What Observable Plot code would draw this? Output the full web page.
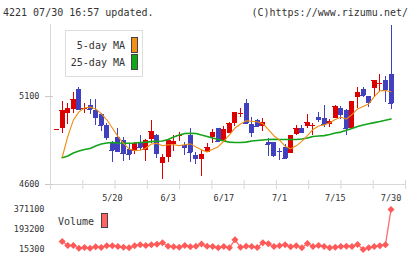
<!DOCTYPE html>
<html>
<head>
<meta charset="utf-8">
<script src="https://cdn.jsdelivr.net/npm/d3@7"></script>
<script src="https://cdn.jsdelivr.net/npm/@observablehq/plot@0.6"></script>
<style>
  body { margin: 0; background: #fff; }
  #wrap { position: relative; width: 420px; height: 259px; overflow: hidden; background: #fff;
          font-family: "DejaVu Sans Mono", monospace; color: #333; }
  .abs { position: absolute; white-space: nowrap; line-height: 12px; }
  .sw { position: absolute; box-sizing: border-box; border: 1px solid #444; }
</style>
</head>
<body>
<div id="wrap">
  <div id="price" class="abs" style="left:0;top:0"></div>
  <div id="vol" class="abs" style="left:0;top:200px"></div>

  <div class="abs" style="left:3px;top:7px;font-size:10px">4221 07/30 16:57 updated.</div>
  <div class="abs" style="right:12px;top:7px;font-size:10px">(C)https://www.rizumu.net/</div>

  <div class="abs" style="left:65px;top:30px;width:78px;height:47px;box-sizing:border-box;border:1px solid #ddd;background:#fff"></div>
  <div class="abs" style="left:65px;top:40px;width:60px;text-align:right;font-size:10px">5-day MA</div>
  <div class="abs" style="left:65px;top:57px;width:60px;text-align:right;font-size:10px">25-day MA</div>
  <div class="sw" style="left:131px;top:37px;width:7px;height:16px;background:#f39019"></div>
  <div class="sw" style="left:131px;top:54px;width:7px;height:16px;background:#10a818"></div>

  <div class="abs" style="left:58px;top:216px;font-size:10px">Volume</div>
  <div class="sw" style="left:101px;top:213px;width:7px;height:15px;background:#ff6464"></div>
</div>
<script>
// Trading days shown on the chart (2025)
const dates = ["5/2",
  "5/7","5/8","5/9","5/12","5/13","5/14","5/15","5/16","5/19","5/20",
  "5/21","5/22","5/23","5/26","5/27","5/28","5/29","5/30","6/2","6/3",
  "6/4","6/5","6/6","6/9","6/10","6/11","6/12","6/13","6/16","6/17",
  "6/18","6/19","6/20","6/23","6/24","6/25","6/26","6/27","6/30","7/1",
  "7/2","7/3","7/4","7/7","7/8","7/9","7/10","7/11","7/14","7/15",
  "7/16","7/17","7/18","7/22","7/23","7/24","7/25","7/28","7/29","7/30"];

const open = [4909,4920,5005,5029,5140,5027,5049,5020,4998,4935,
  4840,4869,4850,4797,4789,4837,4793,4854,4878,4718,
  4752,4827,4872,4822,4878,4765,4742,4783,4867,4920,
  4844,4888,4949,5004,5058,4941,4964,4930,4839,4839,
  4790,4812,4778,4883,4918,4930,4934,4982,4973,4941,
  4978,5030,5020,4921,5096,5140,5100,5147,5174,5191,5225];
const high = [4914,5073,5062,5123,5153,5058,5083,5083,5003,4949,
  4847,4918,4865,4827,4840,4878,4856,4964,4884,4769,
  4858,4878,4894,4840,4917,4783,4793,4831,4912,4920,
  4930,4951,5009,5032,5083,4979,4968,4977,4860,4839,
  4802,4827,4878,4935,4935,4998,4948,5007,5049,4968,
  5049,5043,5026,5072,5153,5153,5100,5191,5225,5214,5503];
const low = [4907,4888,4941,5005,5025,5005,4998,4935,4904,4850,
  4727,4786,4728,4738,4770,4793,4731,4831,4750,4627,
  4727,4789,4842,4765,4727,4714,4647,4783,4835,4840,
  4840,4888,4931,4983,4944,4869,4926,4903,4762,4755,
  4736,4749,4778,4878,4895,4916,4878,4952,4924,4926,
  4973,4968,4878,4921,5030,5096,5039,5096,5128,5068,5026];
const close = [4912,5020,5034,5083,5028,5030,5029,4979,4934,4869,
  4793,4789,4778,4770,4831,4808,4850,4903,4774,4752,
  4850,4846,4876,4809,4783,4749,4770,4812,4897,4847,
  4912,4945,5009,5006,4945,4897,4930,4954,4829,4766,
  4788,4749,4878,4917,4895,4951,4936,4971,4941,4958,
  5043,4998,4918,5072,5124,5106,5068,5191,5177,5134,5058];

// Moving averages as plotted
const ma5 = [null,4755,4873,4966,5013,5035,5041,5030,5003,4968,
  4921,4874,4834,4802,4793,4795,4806,4830,4834,4820,
  4826,4826,4821,4826,4831,4813,4797,4785,4800,4815,
  4846,4882,4921,4944,4962,4960,4957,4946,4912,4876,
  4853,4818,4803,4820,4845,4878,4913,4933,4939,4951,
  4970,4982,4972,4998,5030,5044,5058,5100,5133,5135,5128];
const ma25 = [null,4752,4762,4779,4790,4799,4805,4819,4830,4836,
  4839,4836,4835,4835,4836,4839,4841,4844,4846,4847,
  4856,4870,4881,4890,4891,4890,4881,4873,4864,4856,
  4847,4841,4839,4839,4841,4847,4850,4853,4856,4857,
  4856,4856,4856,4856,4859,4864,4873,4876,4878,4884,
  4893,4898,4909,4918,4930,4938,4945,4952,4958,4965,4972];

const volume = [null,86000,50900,50900,26900,33100,26900,39300,33100,48200,
  48200,42000,35800,30400,48200,57100,50900,57100,62400,74900,
  44700,39300,35800,50900,39300,44700,64000,44700,42000,30400,
  42000,30400,101600,35800,44700,42000,33100,74900,66000,42000,
  48200,57100,39300,48200,30400,68700,42000,50900,42000,30400,
  35800,42000,44700,42000,59800,15300,30400,42000,48200,57100,371100];

// Axis labels
const priceTicks = [4600, 5100];
const volumeTicks = [15300, 193200, 371100];
const dateTicks = ["5/20", "6/3", "6/17", "7/1", "7/15", "7/30"];

const UP = "#dc0000", DOWN = "#4141bf";

const rows = dates.map((d, i) => ({
  i, date: d, open: open[i], high: high[i], low: low[i], close: close[i],
  ma5: ma5[i], ma25: ma25[i], volume: volume[i],
  color: close[i] >= open[i] ? UP : DOWN
}));

const xDomain = [-1.1, 62.6];
const frameTicks = d3.range(12).map(k => xDomain[0] + k * (xDomain[1] - xDomain[0]) / 11);
const labelIdx = dateTicks.map(t => dates.indexOf(t));
const font = { fontFamily: "DejaVu Sans Mono, monospace", fontSize: "8.5px", color: "#333", background: "transparent" };

const price = Plot.plot({
  width: 420, height: 205,
  marginLeft: 50, marginRight: 15, marginTop: 24, marginBottom: 21,
  x: { domain: xDomain, axis: null, label: null },
  y: { domain: [4600, 5510], axis: null, label: null },
  color: { type: "identity" },
  style: font,
  marks: [
    Plot.ruleY([4600], { stroke: "#d8d8d8" }),
    Plot.ruleX([xDomain[0]], { stroke: "#d8d8d8" }),
    Plot.axisY({ ticks: priceTicks, label: null, tickSize: 8, tickPadding: 6, dx: 3, stroke: "#c8c8c8", fill: "#333", tickFormat: d => String(d) }),
    Plot.axisX({ ticks: frameTicks, label: null, tickSize: 9, dy: -4, stroke: "#d8d8d8", tickFormat: () => "" }),
    Plot.axisX({ ticks: labelIdx, label: null, tickSize: 0, tickPadding: 10, fill: "#333", tickFormat: i => dates[i] }),
    // candles: wick, body, and a 1px line at the close so doji show as crosses
    Plot.ruleX(rows, { x: "i", y1: "low", y2: "high", stroke: "color", strokeWidth: 1, shapeRendering: "crispEdges" }),
    Plot.ruleX(rows, { x: "i", y1: "open", y2: "close", stroke: "color", strokeWidth: 5, shapeRendering: "crispEdges" }),
    Plot.ruleY(rows, { y: "close", x1: d => d.i - 0.45, x2: d => d.i + 0.45, stroke: "color", strokeWidth: 1, shapeRendering: "crispEdges" }),
    Plot.line(rows.filter(d => d.ma25 != null), { x: "i", y: "ma25", stroke: "#12a41a", strokeWidth: 1.6 }),
    Plot.line(rows.filter(d => d.ma5 != null), { x: "i", y: "ma5", stroke: "#f08c10", strokeWidth: 1.1 })
  ]
});
document.getElementById("price").appendChild(price);

const volRows = rows.filter(d => d.volume != null);
const vol = Plot.plot({
  width: 420, height: 59,
  marginLeft: 50, marginRight: 15, marginTop: 9, marginBottom: 10,
  x: { domain: xDomain, axis: null, label: null },
  y: { domain: [15300, 371100], axis: null, label: null },
  style: font,
  marks: [
    Plot.axisY({ ticks: volumeTicks, label: null, tickSize: 0, tickPadding: 6, fill: "#333", tickFormat: d => String(d) }),
    Plot.line(volRows, { x: "i", y: "volume", stroke: "#ff6a6a", strokeWidth: 1.3 }),
    Plot.dot(volRows, { x: "i", y: "volume", symbol: "diamond2", r: 3.2, fill: "#ff5a5a", stroke: "none" })
  ]
});
document.getElementById("vol").appendChild(vol);
</script>
</body>
</html>
